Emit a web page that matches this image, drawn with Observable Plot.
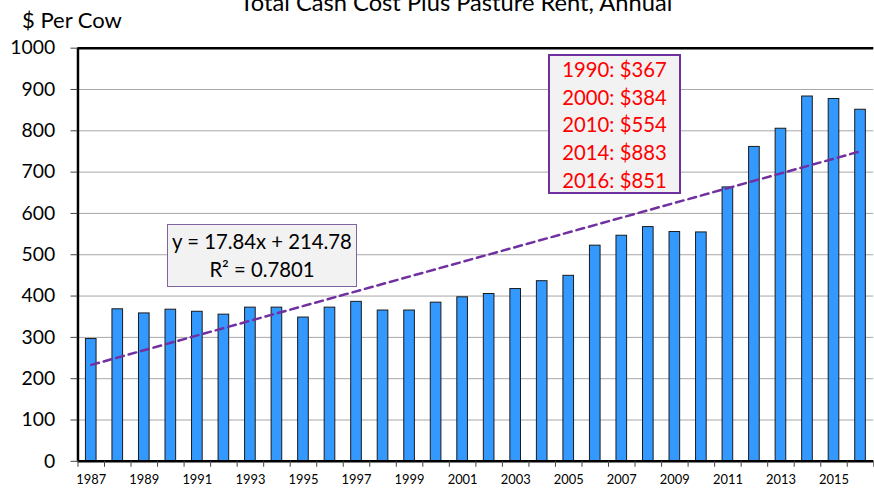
<!DOCTYPE html>
<html>
<head>
<meta charset="utf-8">
<script src="https://cdn.jsdelivr.net/npm/d3@7"></script>
<script src="https://cdn.jsdelivr.net/npm/@observablehq/plot@0.6"></script>
<style>
  html, body { margin: 0; padding: 0; background: #fff; overflow: hidden; }
  #wrap { position: relative; width: 874px; height: 491px; overflow: hidden; font-family: Lato, sans-serif; }
  #wrap svg { position: absolute; left: 0; top: 0; }
  .title { position: absolute; left: 156px; width: 600px; top: -11.9px; text-align: center; font-size: 23.7px; line-height: 1.2; color: #000; white-space: nowrap; }
  .ylab { position: absolute; left: 22px; top: 6.6px; font-size: 22px; line-height: 1.2; color: #000; white-space: nowrap; }
  .box1 { position: absolute; left: 167px; top: 224px; width: 188px; height: 59px; border: 1px solid #8064a2; background: #f2f2f2; text-align: center; font-size: 20.3px; line-height: 28px; padding-top: 2px; box-sizing: content-box; color: #000; white-space: nowrap; }
  .box1 div { height: 28px; }
  .box2 { position: absolute; left: 548px; top: 54px; width: 129px; height: 136px; border: 2px solid #7030a0; background: #f2f2f2; text-align: center; font-size: 20.3px; line-height: 27.7px; color: #ff0000; white-space: nowrap; overflow: visible; }
</style>
</head>
<body>
<div id="wrap"></div>
<script>
// ---- data ----
const years = [1987, 1988, 1989, 1990, 1991, 1992, 1993, 1994, 1995, 1996,
               1997, 1998, 1999, 2000, 2001, 2002, 2003, 2004, 2005, 2006,
               2007, 2008, 2009, 2010, 2011, 2012, 2013, 2014, 2015, 2016];
const costPerCow = [296, 368, 358, 367, 362, 355, 372, 372, 348, 372,
                    386, 365, 365, 384, 397, 405, 417, 436, 449, 522,
                    546, 567, 555, 554, 663, 761, 805, 883, 877, 851];
const yTicks = [0, 100, 200, 300, 400, 500, 600, 700, 800, 900, 1000];
const xLabelYears = [1987, 1989, 1991, 1993, 1995, 1997, 1999, 2001, 2003,
                     2005, 2007, 2009, 2011, 2013, 2015];
const titleText = "Total Cash Cost Plus Pasture Rent, Annual";
const yAxisTitle = "$ Per Cow";
const trendLines = ["y = 17.84x + 214.78", "R\u00B2 = 0.7801"];
const highlightLines = ["1990: $367", "2000: $384", "2010: $554", "2014: $883", "2016: $851"];

// ---- build ----
const rows = years.map((year, i) => ({year, value: costPerCow[i]}));
const xDomain = [years[0] - 0.5, years[years.length - 1] + 0.5];
const boundaries = [...years.map(y => y - 0.5), years[years.length - 1] + 0.5];

const chart = Plot.plot({
  width: 880,
  height: 491,
  marginLeft: 78,
  marginRight: 0.7,
  marginTop: 48,
  marginBottom: 27,
  style: {fontFamily: "Lato, sans-serif", background: "transparent", overflow: "visible"},
  x: {type: "linear", domain: xDomain},
  y: {domain: [yTicks[0], yTicks[yTicks.length - 1]]},
  marks: [
    Plot.gridY(yTicks.slice(1, -1), {stroke: "#a6a6a6", strokeOpacity: 1, strokeWidth: 1}),
    Plot.rectY(rows, {
      x1: d => d.year - 0.5, x2: d => d.year + 0.5, y: "value",
      insetLeft: 8, insetRight: 8,
      fill: "#3399ff", stroke: "#1a1a1a", strokeWidth: 1
    }),
    Plot.linearRegressionY(rows, {x: "year", y: "value", ci: 0, stroke: "#7030a0", strokeWidth: 2.5, strokeDasharray: "8,5"}),
    Plot.ruleY([yTicks[0], yTicks[yTicks.length - 1]], {stroke: "#000", strokeWidth: 2.5}),
    Plot.ruleX([xDomain[0]], {stroke: "#000", strokeWidth: 2.5}),
    Plot.axisY({ticks: yTicks, tickSize: 7, tickPadding: 16, fontSize: 19.5, tickFormat: d => String(d), stroke: "#444", fill: "#000", label: null}),
    Plot.axisX({ticks: boundaries, tickSize: 6, tickFormat: () => "", stroke: "#444", label: null}),
    Plot.axisX({ticks: xLabelYears, tickSize: 0, tickPadding: 14, fontSize: 13, tickFormat: d => String(d), fill: "#000", label: null})
  ]
});

const wrap = document.getElementById("wrap");
wrap.appendChild(chart);

const t = document.createElement("div");
t.className = "title"; t.textContent = titleText; wrap.appendChild(t);

const yl = document.createElement("div");
yl.className = "ylab"; yl.textContent = yAxisTitle; wrap.appendChild(yl);

const b1 = document.createElement("div");
b1.className = "box1";
trendLines.forEach(s => { const d = document.createElement("div"); d.textContent = s; b1.appendChild(d); });
wrap.appendChild(b1);

const b2 = document.createElement("div");
b2.className = "box2";
highlightLines.forEach(s => { const d = document.createElement("div"); d.textContent = s; b2.appendChild(d); });
wrap.appendChild(b2);
</script>
</body>
</html>
